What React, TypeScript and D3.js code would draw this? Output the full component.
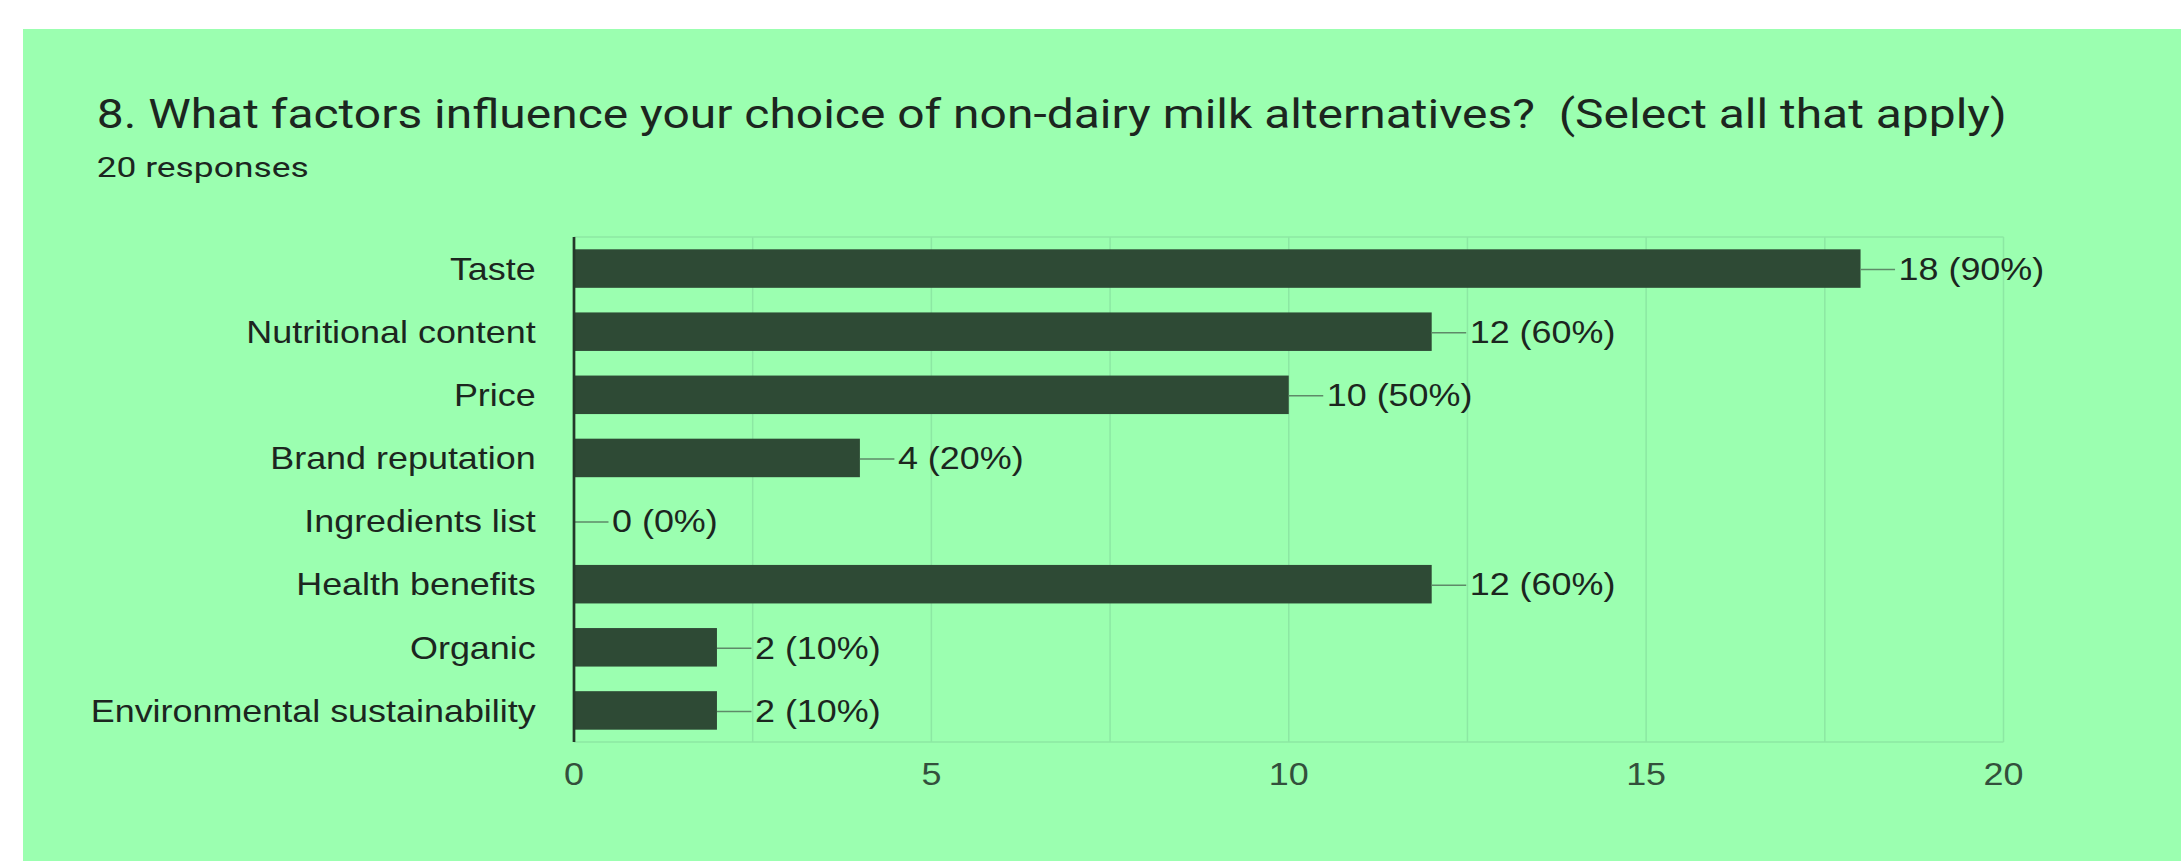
import React from "react";
import * as d3 from "d3";

const title = "8. What factors influence your choice of non-dairy milk alternatives?  (Select all that apply)";
const subtitle = "20 responses";
const totalResponses = 20;
const categories = [
  "Taste",
  "Nutritional content",
  "Price",
  "Brand reputation",
  "Ingredients list",
  "Health benefits",
  "Organic",
  "Environmental sustainability",
];
const counts = [18, 12, 10, 4, 0, 12, 2, 2];
const xTickLabels = [0, 5, 10, 15, 20];
const gridValues = [0, 2.5, 5, 7.5, 10, 12.5, 15, 17.5, 20];

const W = 2181;
const H = 861;
const BG = "#9bffb0";
const BAR = "#2e4a35";
const GRID = "#8ce8a3";
const TEXT = "#1c261f";
const SX = 1.14;
const FS = 31.5;
const ARIAL = "Arial, 'Liberation Sans', sans-serif";

export default function App() {
  const x = d3.scaleLinear().domain([0, 20]).range([574, 2003.5]);
  const y = d3
    .scaleBand<string>()
    .domain(categories)
    .range([237, 742])
    .paddingInner(0.39)
    .paddingOuter(0.195);
  const bw = y.bandwidth();

  return (
    <svg
      width={W}
      height={H}
      style={{ position: "absolute", left: 0, top: 0, display: "block" }}
    >
      <rect x={23} y={29} width={W - 23} height={H - 29} fill={BG} />
      <text
        x={96.7}
        y={128}
        fontFamily="Roboto, sans-serif"
        fontSize={41}
        fill={TEXT}
        textLength={1910}
        lengthAdjust="spacingAndGlyphs"
        style={{ whiteSpace: "pre" }}
      >
        {title}
      </text>
      <text
        x={96.7}
        y={177}
        fontFamily="Roboto, sans-serif"
        fontSize={27}
        fill={TEXT}
        textLength={212}
        lengthAdjust="spacingAndGlyphs"
      >
        {subtitle}
      </text>

      {/* grid */}
      {gridValues.map((g) => (
        <line
          key={"g" + g}
          x1={x(g)}
          x2={x(g)}
          y1={237}
          y2={742}
          stroke={GRID}
          strokeWidth={1.5}
        />
      ))}
      <line x1={x(0)} x2={x(20)} y1={237} y2={237} stroke={GRID} strokeWidth={1.5} />
      <line x1={x(0)} x2={x(20)} y1={742} y2={742} stroke={GRID} strokeWidth={1.5} />

      {/* bars */}
      {categories.map((c, i) => {
        const v = counts[i];
        const y0 = y(c) as number;
        const cy = y0 + bw / 2;
        const xe = x(v);
        const label = `${v} (${Math.round((v / totalResponses) * 100)}%)`;
        return (
          <g key={c}>
            {v > 0 && (
              <rect x={x(0)} y={y0} width={xe - x(0)} height={bw} fill={BAR} />
            )}
            <line
              x1={xe}
              x2={xe + 34.5}
              y1={cy + 1}
              y2={cy + 1}
              stroke="#5e8a68"
              strokeWidth={1.6}
            />
            <text
              transform={`translate(${xe + 38},${cy + 0.358 * FS}) scale(${SX},1)`}
              fontFamily={ARIAL}
              fontSize={FS}
              fill={TEXT}
            >
              {label}
            </text>
            <text
              transform={`translate(535.7,${cy + 0.358 * FS}) scale(${SX},1)`}
              fontFamily={ARIAL}
              fontSize={FS}
              fill={TEXT}
              textAnchor="end"
            >
              {c}
            </text>
          </g>
        );
      })}

      {/* axis line */}
      <line x1={x(0)} x2={x(0)} y1={237} y2={742} stroke="#24382a" strokeWidth={2.7} />

      {/* x tick labels */}
      {xTickLabels.map((t) => (
        <text
          key={"t" + t}
          transform={`translate(${x(t)},785) scale(${SX},1)`}
          fontFamily={ARIAL}
          fontSize={FS}
          fill="#33503c"
          textAnchor="middle"
        >
          {t}
        </text>
      ))}
    </svg>
  );
}
